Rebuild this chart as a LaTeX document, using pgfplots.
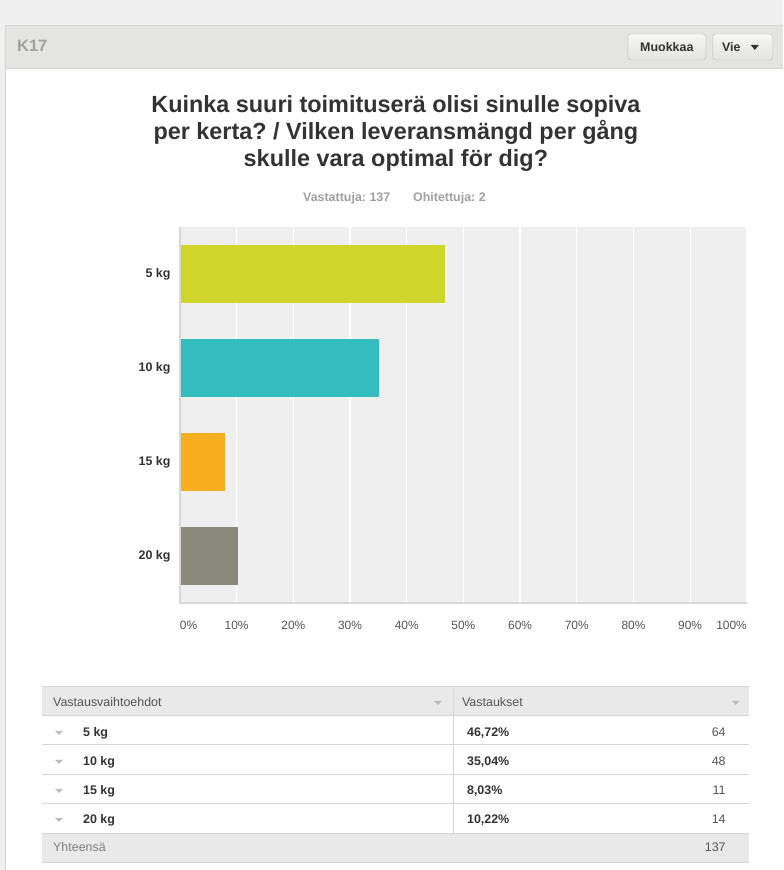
\documentclass[border=0pt]{standalone}
\usepackage{pgfplots}
\pgfplotsset{compat=1.18}
\usepackage{fontspec}
\setmainfont{Liberation Sans}
\frenchspacing
\definecolor{pagebg}{HTML}{F0F0F0}
\definecolor{headbg}{HTML}{E4E4E2}
\definecolor{bordercol}{HTML}{D4D4D4}
\definecolor{plotbg}{HTML}{EFEFEF}
\definecolor{axisgray}{HTML}{D8D8D8}
\definecolor{titlecol}{HTML}{333333}
\definecolor{subcol}{HTML}{A0A0A0}
\definecolor{tickcol}{HTML}{555555}
\definecolor{cA}{HTML}{D0D52A}
\definecolor{cB}{HTML}{33BDBF}
\definecolor{cC}{HTML}{F7AE1E}
\definecolor{cD}{HTML}{898A79}
\definecolor{tabhead}{HTML}{E9E9E9}
\definecolor{tabline}{HTML}{D6D6D6}
\definecolor{tricol}{HTML}{BBBBBB}
\definecolor{btntop}{HTML}{F6F6F4}
\definecolor{btnbot}{HTML}{E3E3E0}
\definecolor{btnborder}{HTML}{BDBDBD}
\pgfplotstableread{
y val
3 46.72
}\tA
\pgfplotstableread{
y val
2 35.04
}\tB
\pgfplotstableread{
y val
1 8.03
}\tC
\pgfplotstableread{
y val
0 10.22
}\tD
\begin{document}
\begin{tikzpicture}[x=1bp,y=-1bp]
% page background and panel
\fill[pagebg] (0,0) rectangle (783,870);
\fill[white] (5,25) rectangle (783,870);
\fill[headbg] (5,25) rectangle (783,68);
\draw[bordercol] (5,870)--(5,25)--(783,25);
\draw[bordercol] (5,68)--(783,68);
\node[anchor=base west,text=subcol,inner sep=0pt,font=\fontsize{16.5}{18}\selectfont\bfseries] at (17,52) {K17};
% buttons
\draw[rounded corners=3bp,top color=btntop,bottom color=btnbot,draw=btnborder] (628,34) rectangle (706,60);
\node[anchor=base,inner sep=0pt,text=titlecol,font=\fontsize{12.5}{14}\selectfont\bfseries] at (667,52) {Muokkaa};
\draw[rounded corners=3bp,top color=btntop,bottom color=btnbot,draw=btnborder] (713,34) rectangle (773,60);
\node[anchor=base west,inner sep=0pt,text=titlecol,font=\fontsize{12.5}{14}\selectfont\bfseries] at (722,52) {Vie};
\fill[titlecol] (751,45)--(759,45)--(755,50)--cycle;
% title
\begin{scope}[every node/.style={anchor=base,inner sep=0pt,text=titlecol,font=\fontsize{23.5}{28}\selectfont\bfseries}]
\node at (396,113) {Kuinka suuri toimituserä olisi sinulle sopiva};
\node at (396,140) {per kerta? / Vilken leveransmängd per gång};
\node at (396,167) {skulle vara optimal för dig?};
\end{scope}
\node[anchor=base west,inner sep=0pt,text=subcol,font=\fontsize{12.5}{14}\selectfont\bfseries] at (303,202) {Vastattuja: 137};
\node[anchor=base west,inner sep=0pt,text=subcol,font=\fontsize{12.5}{14}\selectfont\bfseries] at (413,202) {Ohitettuja: 2};
% chart
\begin{axis}[
  at={(180bp,-603bp)}, anchor=south west,
  scale only axis, width=567bp, height=376bp,
  xmin=0, xmax=100, ymin=-0.5, ymax=3.5,
  xbar, bar width=58bp, bar shift=0pt,
  axis background/.style={fill=plotbg},
  xmajorgrids, grid style={white,line width=1.2bp},
  xtick={0,10,...,100},
  xticklabels={\makebox[0pt][l]{0\%},10\%,20\%,30\%,40\%,50\%,60\%,70\%,80\%,90\%,\makebox[0pt][r]{100\%}},
  ytick={0,1,2,3},
  yticklabels={20 kg,15 kg,10 kg,5 kg},
  major tick length=0pt,
  axis line style={draw=none},
  xticklabel style={text=tickcol,font=\fontsize{12}{14}\selectfont,yshift=-15bp},
  yticklabel style={text=titlecol,font=\fontsize{12.5}{14}\selectfont\bfseries,xshift=-6bp},
  /pgf/number format/assume math mode=true,
  clip=false,
]
\addplot[fill=cA,draw=none] table[x=val,y=y]{\tA};
\addplot[fill=cB,draw=none] table[x=val,y=y]{\tB};
\addplot[fill=cC,draw=none] table[x=val,y=y]{\tC};
\addplot[fill=cD,draw=none] table[x=val,y=y]{\tD};
\draw[axisgray,line width=2bp] (rel axis cs:0,1)--(rel axis cs:0,0)--(rel axis cs:1,0);
\end{axis}
% table
\fill[tabhead] (42,687) rectangle (749,716);
\fill[tabhead] (42,834) rectangle (749,863);
\foreach \yy in {687,716,745,775,804,834,863} {\draw[tabline,line width=1bp] (42,\yy)--(749,\yy);}
\draw[tabline,line width=1bp] (454,687)--(454,834);
\begin{scope}[every node/.style={inner sep=0pt,font=\fontsize{12.5}{14}\selectfont}]
\node[anchor=base west,text=tickcol] at (53,707) {Vastausvaihtoehdot};
\node[anchor=base west,text=tickcol] at (462,707) {Vastaukset};
\node[anchor=base west,text=gray] at (53,852) {Yhteensä};
\node[anchor=base east,text=tickcol] at (726,852) {137};
\end{scope}
\fill[tricol] (434,701)--(442,701)--(438,705)--cycle;
\fill[tricol] (732,701)--(740,701)--(736,705)--cycle;
\foreach \yy/\lab/\pc/\n in {737/{5 kg}/{46,72\%}/64, 766/{10 kg}/{35,04\%}/48, 795/{15 kg}/{8,03\%}/11, 824/{20 kg}/{10,22\%}/14} {
  \fill[tricol] (55,\yy-6)--(63,\yy-6)--(59,\yy-2)--cycle;
  \node[anchor=base west,inner sep=0pt,text=titlecol,font=\fontsize{12.5}{14}\selectfont\bfseries] at (83,\yy) {\lab};
  \node[anchor=base west,inner sep=0pt,text=titlecol,font=\fontsize{12.5}{14}\selectfont\bfseries] at (467,\yy) {\pc};
  \node[anchor=base east,inner sep=0pt,text=tickcol,font=\fontsize{12.5}{14}\selectfont] at (726,\yy) {\n};
}
\end{tikzpicture}
\end{document}
